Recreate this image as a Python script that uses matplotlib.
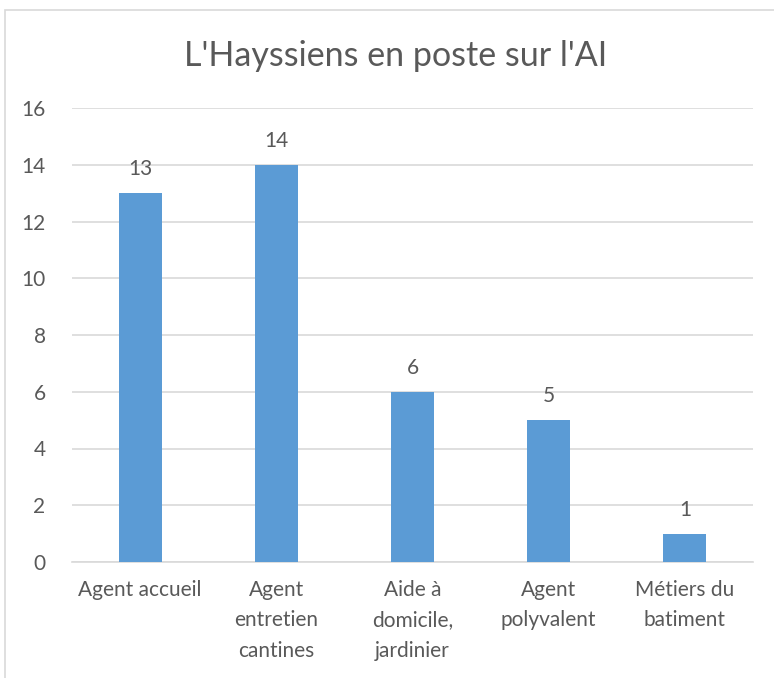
import matplotlib.pyplot as plt
from matplotlib.patches import Rectangle
import numpy as np

# chart data
categories = ["Agent accueil", "Agent\nentretien\ncantines", "Aide à\ndomicile,\njardinier",
              "Agent\npolyvalent", "Métiers du\nbatiment"]
values = [13, 14, 6, 5, 1]
yticks = [0, 2, 4, 6, 8, 10, 12, 14, 16]
title = "L'Hayssiens en poste sur l'AI"

BAR = "#5B9BD5"
TXT = "#595959"
GRID = "#D9D9D9"

plt.rcParams["font.family"] = ["Lato", "DejaVu Sans"]

W, H = 774, 678
fig = plt.figure(figsize=(W / 100, H / 100), dpi=100)
fig.patch.set_facecolor("white")

# chart frame (cropped at right and bottom like the source)
fig.patches.append(Rectangle((5 / W, -0.1), 1.2, 1.1 - 10 / H,
                             transform=fig.transFigure, fill=False,
                             edgecolor=GRID, linewidth=1.2))

ax = fig.add_axes([72 / W, 1 - 562 / H, (753 - 72) / W, (562 - 108) / H])
x = np.arange(len(categories))
ax.bar(x, values, width=0.315, color=BAR, zorder=3)

for xi, v in zip(x, values):
    ax.annotate(str(v), (xi, v), xytext=(0, 10), textcoords="offset points",
                ha="center", va="bottom", fontsize=15, color=TXT)

ax.set_xlim(-0.5, len(categories) - 0.5)
ax.set_ylim(0, 16)
ax.set_yticks(yticks)
ax.set_xticks(x)
ax.set_xticklabels(categories, fontsize=15, color=TXT, linespacing=1.65, va="top")
ax.tick_params(axis="y", labelsize=15, labelcolor=TXT, length=0, pad=19)
ax.tick_params(axis="x", length=0, pad=13)
ax.grid(axis="y", color=GRID, linewidth=1.2, zorder=0)

for side in ("top", "right", "left"):
    ax.spines[side].set_visible(False)
ax.spines["bottom"].set_color(GRID)
ax.spines["bottom"].set_linewidth(1.2)

fig.text(0.5 * (185 + 607) / W, 1 - 56 / H, title, ha="center", va="center",
         fontsize=24.5, color=TXT)

fig.savefig("out.png", dpi=100)
